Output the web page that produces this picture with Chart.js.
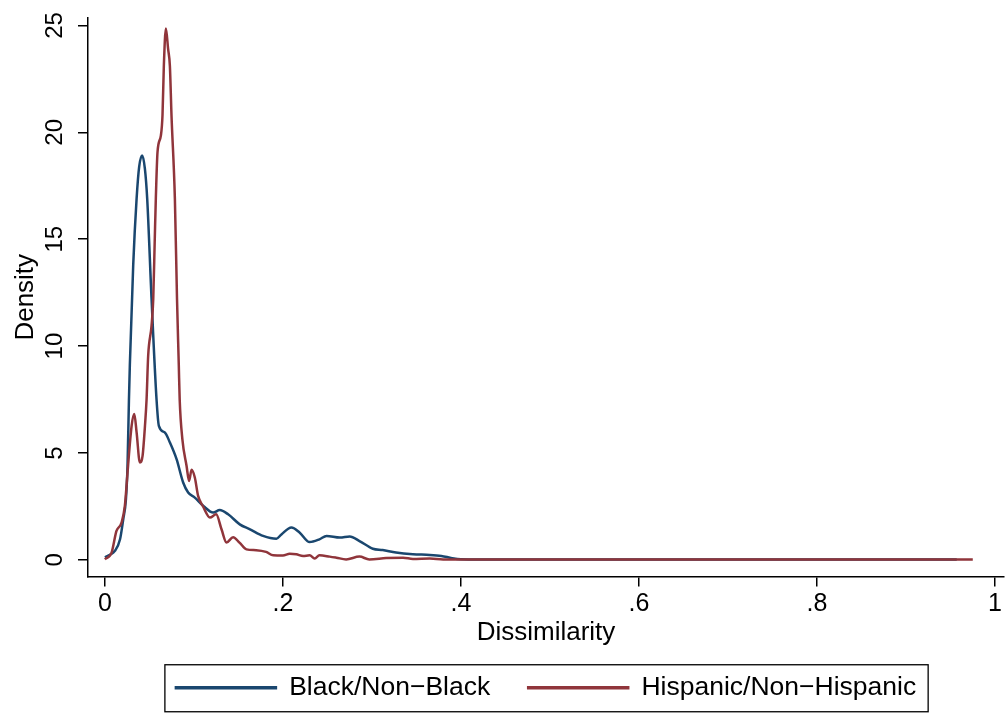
<!DOCTYPE html>
<html><head><meta charset="utf-8">
<script src="https://cdn.jsdelivr.net/npm/chart.js@4.4.0/dist/chart.umd.min.js"></script>
<style>html,body{margin:0;padding:0;background:#fff;} canvas{display:block;}</style>
</head><body>
<canvas id="c" width="1005" height="713"></canvas>
<script>
const seriesNames = ['Black/Non\u2212Black', 'Hispanic/Non\u2212Hispanic'];
const seriesColors = ['#1a476f', '#90353b'];

const blackX = [0, 0.006, 0.011, 0.017, 0.0206, 0.0236, 0.0254, 0.027, 0.028, 0.0318, 0.0356, 0.0385, 0.0419, 0.0449, 0.0475, 0.0524, 0.058, 0.0606, 0.0673, 0.073, 0.0805, 0.0879, 0.0935, 0.101, 0.1106, 0.1216, 0.129, 0.1384, 0.1515, 0.163, 0.1777, 0.1927, 0.1983, 0.2095, 0.2189, 0.230, 0.241, 0.249, 0.264, 0.275, 0.286, 0.301, 0.312, 0.327, 0.346, 0.365, 0.378, 0.39, 0.40, 0.42, 0.45, 0.5, 0.55, 0.6, 0.7, 0.8, 0.9, 0.957];
const blackY = [0.12, 0.25, 0.41, 0.96, 1.9, 2.83, 4.4, 7.5, 9.1, 13.8, 16.9, 18.4, 18.92, 18.3, 16.9, 12.2, 7.5, 6.27, 5.96, 5.49, 4.71, 3.62, 3.15, 2.91, 2.52, 2.21, 2.33, 2.13, 1.66, 1.43, 1.12, 0.99, 1.19, 1.51, 1.27, 0.83, 0.96, 1.12, 1.04, 1.09, 0.88, 0.52, 0.46, 0.34, 0.26, 0.23, 0.18, 0.08, 0.03, 0.02, 0.02, 0.01, 0.02, 0.01, 0.01, 0.01, 0.01, 0.01];

const hispX = [0, 0.0075, 0.013, 0.0187, 0.0224, 0.026, 0.03, 0.033, 0.0356, 0.0393, 0.0423, 0.045, 0.0468, 0.0486, 0.0524, 0.0543, 0.056, 0.0572, 0.0591, 0.0629, 0.0647, 0.0662, 0.0685, 0.071, 0.073, 0.0748, 0.0786, 0.081, 0.083, 0.084, 0.087, 0.0917, 0.0946, 0.0973, 0.101, 0.1047, 0.110, 0.118, 0.125, 0.131, 0.1366, 0.144, 0.1515, 0.159, 0.170, 0.181, 0.189, 0.200, 0.2076, 0.215, 0.2226, 0.230, 0.2357, 0.241, 0.2525, 0.260, 0.271, 0.286, 0.297, 0.316, 0.335, 0.346, 0.365, 0.38, 0.4, 0.45, 0.5, 0.55, 0.6, 0.7, 0.8, 0.9, 0.975];
const hispY = [0.02, 0.34, 1.35, 1.74, 2.52, 4.4, 6.27, 6.82, 5.96, 4.55, 4.86, 6.27, 7.5, 9.55, 10.96, 12.2, 15.0, 16.9, 19.08, 19.86, 20.8, 23.1, 24.86, 23.9, 23.1, 20.8, 16.9, 12.2, 9.1, 7.5, 5.65, 4.4, 3.69, 4.21, 3.85, 2.99, 2.52, 1.98, 2.13, 1.43, 0.81, 1.06, 0.79, 0.49, 0.45, 0.37, 0.21, 0.2, 0.28, 0.26, 0.18, 0.21, 0.06, 0.21, 0.15, 0.1, 0.02, 0.15, 0.02, 0.08, 0.1, 0.04, 0.06, 0.02, 0.02, 0.01, 0.02, 0.01, 0.02, 0.01, 0.01, 0.01, 0.01];

const xTickValues = [0, 0.2, 0.4, 0.6, 0.8, 1];
const xTickLabels = ['0', '.2', '.4', '.6', '.8', '1'];
const yTickValues = [0, 5, 10, 15, 20, 25];
const yTickLabels = ['0', '5', '10', '15', '20', '25'];
const xTitle = 'Dissimilarity';
const yTitle = 'Density';

const FONT = '"Liberation Sans", Arial, Helvetica, sans-serif';
Chart.defaults.font.family = FONT;
Chart.defaults.color = '#000';

const yTickLabelPlugin = {
  id: 'yTickLabels',
  afterDraw(chart) {
    const ys = chart.scales.y, ctx = chart.ctx;
    ctx.save();
    ctx.fillStyle = '#000';
    ctx.font = '24px ' + FONT;
    ctx.textAlign = 'center';
    ctx.textBaseline = 'alphabetic';
    ys.ticks.forEach((t, i) => {
      const py = ys.getPixelForValue(t.value);
      ctx.save();
      ctx.translate(ys.right - 26, py);
      ctx.rotate(-Math.PI / 2);
      ctx.fillText(yTickLabels[i], 0, 0);
      ctx.restore();
    });
    ctx.restore();
  }
};

const legendBoxPlugin = {
  id: 'legendBox',
  afterDraw(chart) {
    const hb = chart.legend && chart.legend.legendHitBoxes;
    if (!hb || !hb.length) return;
    const ctx = chart.ctx;
    const first = hb[0], last = hb[hb.length - 1];
    const cy = first.top + first.height / 2;
    const left = first.left - 11, right = last.left + last.width + 12;
    ctx.save();
    ctx.strokeStyle = '#000';
    ctx.lineWidth = 1.3;
    ctx.strokeRect(left, cy - 23, right - left, 47);
    ctx.restore();
  }
};

new Chart(document.getElementById('c'), {
  type: 'line',
  data: {
    datasets: [
      { label: seriesNames[0], data: blackX.map((x, i) => ({x: x, y: blackY[i]})),
        borderColor: seriesColors[0], backgroundColor: seriesColors[0], borderWidth: 2.5,
        pointRadius: 0, cubicInterpolationMode: 'monotone', fill: false, order: 2 },
      { label: seriesNames[1], data: hispX.map((x, i) => ({x: x, y: hispY[i]})),
        borderColor: seriesColors[1], backgroundColor: seriesColors[1], borderWidth: 2.5,
        pointRadius: 0, cubicInterpolationMode: 'monotone', fill: false, order: 1 }
    ]
  },
  options: {
    responsive: false,
    animation: false,
    events: [],
    layout: { padding: { left: 0, right: 0, top: 18, bottom: 2 } },
    plugins: {
      tooltip: { enabled: false },
      legend: {
        position: 'bottom',
        fullSize: false,
        labels: {
          boxWidth: 100, boxHeight: 1, padding: 38, color: '#000',
          font: { size: 26.5 },
          sort: (a, b) => a.datasetIndex - b.datasetIndex
        }
      }
    },
    scales: {
      x: {
        type: 'linear', min: -0.019, max: 1.0101,
        afterBuildTicks: s => { s.ticks = xTickValues.map(v => ({value: v})); },
        afterFit: s => { s.height = 60; },
        ticks: { padding: 3, color: '#000', font: { size: 25 }, maxRotation: 0,
                 callback: (v, i) => xTickLabels[i] },
        grid: { drawOnChartArea: false, drawTicks: true, tickLength: 10, color: '#000', lineWidth: 1.5 },
        border: { display: true, color: '#000', width: 1.5 },
        title: { display: true, text: xTitle, color: '#000', font: { size: 26, lineHeight: 1 }, padding: { top: 0, bottom: -9 } }
      },
      y: {
        type: 'linear', min: -0.78, max: 25.35,
        afterBuildTicks: s => { s.ticks = yTickValues.map(v => ({value: v})); },
        afterFit: s => { s.width = 88; },
        ticks: { display: false },
        grid: { drawOnChartArea: false, drawTicks: true, tickLength: 10, color: '#000', lineWidth: 1.5 },
        border: { display: true, color: '#000', width: 1.5 },
        title: { display: true, text: yTitle, color: '#000', font: { size: 26, lineHeight: 1 }, padding: { top: 13, bottom: 0 } }
      }
    }
  },
  plugins: [yTickLabelPlugin, legendBoxPlugin]
});
</script>
</body></html>
